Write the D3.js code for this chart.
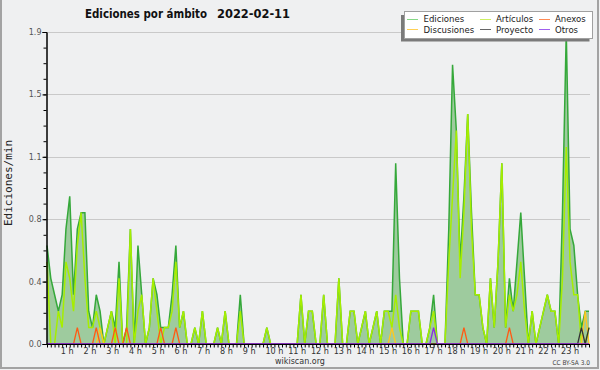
<!DOCTYPE html>
<html><head><meta charset="utf-8">
<script src="https://cdn.jsdelivr.net/npm/d3@7"></script>
<style>body{margin:0;background:#eff0f1}svg{display:block}</style>
</head><body>
<svg id="c" width="600" height="370"></svg>
<script>
// ---- data (edits per minute, 10-minute bins, 144 bins) ----
const hourLabels = d3.range(1, 24).map(h => h + " h");
const yTickValues = [0, 0.38, 0.76, 1.14, 1.52, 1.9];
const legendNames = ["Ediciones", "Artículos", "Anexos", "Discusiones", "Proyecto", "Otros"];

const ediciones = [
 0.6,0.4,0.3,0.2,0.3,0.7, 0.9,0.3,0.7,0.8,0.8,0.2, 0.1,0.3,0.2,0,0.1,0.2, 0.1,0.5,0,0.1,0.7,0,
 0.6,0.3,0,0.1,0.4,0.3, 0.1,0.1,0.1,0.3,0.6,0.1, 0.2,0,0,0.1,0,0.2, 0,0,0,0.1,0,0.2,
 0,0,0,0.3,0,0, 0,0,0,0,0.1,0, 0,0,0,0,0,0, 0,0.3,0,0.2,0.2,0,
 0,0.3,0,0,0,0.4, 0,0,0.2,0.2,0,0.1, 0.2,0,0.1,0.2,0,0.2, 0.2,0.2,1.1,0.4,0,0,
 0.2,0.2,0.2,0,0,0.1, 0.3,0,0,0,0.7,1.7, 1.3,0.5,0.9,1.4,0.8,0.3, 0.3,0.1,0,0.4,0.1,0.5,
 1.1,0.1,0.4,0.2,0.5,0.8, 0.4,0,0.2,0,0.1,0.2, 0.3,0.2,0.2,0,0.8,1.9, 0.7,0.6,0.3,0.1,0.2,0.2
];
const articulos = [
 0.5,0,0,0.2,0.1,0.5, 0.4,0.2,0.6,0.8,0.4,0.1, 0.1,0.2,0.1,0,0.1,0.2, 0,0.4,0,0,0.7,0,
 0.2,0.3,0,0.1,0.4,0.2, 0,0.1,0.1,0.2,0.5,0.1, 0.2,0,0,0.1,0,0.2, 0,0,0,0.1,0,0.2,
 0,0,0,0.2,0,0, 0,0,0,0,0.1,0, 0,0,0,0,0,0, 0,0.3,0,0.2,0.2,0,
 0,0.3,0,0,0,0.4, 0,0,0.2,0.2,0,0.1, 0.2,0,0.1,0.2,0,0.2, 0.2,0.1,0.3,0.1,0,0,
 0.2,0.2,0.2,0,0,0.1, 0.2,0,0,0,0.5,0.9, 1.3,0.4,0.8,1.4,0.7,0.3, 0.3,0.1,0,0.4,0.1,0.5,
 1.1,0.1,0.3,0.2,0.3,0.5, 0.2,0,0.2,0,0.1,0.2, 0.3,0.2,0.2,0,0.4,1.2, 0.5,0.3,0.3,0,0,0.1
];
// sparse series: [bin, value]
const anexosPts = [[8,0.1],[13,0.1],[18,0.1],[21,0.1],[30,0.1],[34,0.1],[110,0.1],[122,0.1]];
const discusionesPts = [[14,0.1],[91,0.1],[142,0.2]];
const proyectoPts = [[141,0.1],[143,0.1]];
const otrosPts = [[102,0.1]];

function dense(pts){ const a = new Array(144).fill(0); pts.forEach(([i,v]) => a[i] = v); return a; }
const anexos = dense(anexosPts), discusiones = dense(discusionesPts),
      proyecto = dense(proyectoPts), otros = dense(otrosPts);

// ---- layout ----
const svg = d3.select("#c");
const W = 600, H = 370;
const x = d3.scaleLinear().domain([0, 143]).range([47, 589]);
const y = d3.scaleLinear().domain([0, 1.9]).range([344, 32]);
const FONT = "DejaVu Sans Condensed, DejaVu Sans, sans-serif";

svg.append("rect").attr("width", W).attr("height", H).attr("fill", "#eff0f1");
// frame
svg.append("path").attr("d", "M1,0V368H598V0").attr("fill", "none").attr("stroke", "#a3a3a3").attr("stroke-width", 2);

// gridlines
svg.append("g").selectAll("line").data(yTickValues.slice(1)).join("line")
  .attr("x1", 47).attr("x2", 590).attr("y1", d => Math.round(y(d)) + 0.5).attr("y2", d => Math.round(y(d)) + 0.5)
  .attr("stroke", "#c9c9c9").attr("stroke-width", 1);

// area + lines
const area = d3.area().x((d, i) => x(i)).y0(y(0)).y1(d => y(d));
const line = d3.line().x((d, i) => x(i)).y(d => y(d));
svg.append("path").datum(ediciones).attr("d", area).attr("fill", "#9ecb9e");
svg.append("path").datum(ediciones).attr("d", line).attr("fill", "none").attr("stroke", "#35a83a").attr("stroke-width", 1.5);
svg.append("path").datum(articulos).attr("d", line).attr("fill", "none").attr("stroke", "#a6ee00").attr("stroke-width", 1.5);
const small = [[discusiones, "#ffc81e"], [anexos, "#ff5a14"], [proyecto, "#333333"], [otros, "#8a2be2"]];
small.forEach(([data, col]) => {
  svg.append("path").datum(data).attr("d", line).attr("fill", "none").attr("stroke", col).attr("stroke-width", 1.3);
});

// y axis
const gy = svg.append("g").attr("transform", "translate(46.5,0)");
gy.call(d3.axisLeft(y).tickValues(yTickValues).tickSize(4).tickPadding(1).tickFormat(d3.format(".1f")));
gy.append("g").call(d3.axisLeft(y).tickValues(d3.range(0, 20).map(i => i * 0.095)).tickSize(3).tickFormat(""));
gy.selectAll(".domain").attr("stroke", "#000");
gy.selectAll("line").attr("stroke", "#000");
gy.selectAll("text").attr("font-family", "DejaVu Sans, sans-serif").attr("font-size", 8).attr("fill", "#555");

// x axis
const gx = svg.append("g").attr("transform", "translate(0,344.5)");
gx.call(d3.axisBottom(x).tickValues(d3.range(0, 144)).tickSize(3).tickSizeOuter(0).tickFormat(""));
gx.select(".domain").attr("d", "M46,0H590").attr("stroke", "#000");
gx.selectAll("line").attr("stroke", "#000");
svg.append("g").selectAll("text").data(hourLabels).join("text")
  .attr("x", (d, i) => x((i + 1) * 6) - 9).attr("y", 354)
  .attr("font-family", FONT).attr("font-size", 9).attr("fill", "#333")
  .text(d => d);

// y label
svg.append("text").attr("transform", "translate(12,183) rotate(-90)").attr("text-anchor", "middle")
  .attr("font-family", "DejaVu Sans Mono, monospace").attr("font-size", 11).attr("fill", "#222")
  .text("Ediciones/min");

// title
svg.append("text").attr("x", 85).attr("y", 18).attr("font-family", FONT).attr("font-weight", "bold")
  .attr("font-size", 12).attr("fill", "#111").attr("textLength", 122).attr("lengthAdjust", "spacingAndGlyphs")
  .text("Ediciones por ámbito");
svg.append("text").attr("x", 217).attr("y", 18).attr("font-family", FONT).attr("font-weight", "bold")
  .attr("font-size", 12).attr("fill", "#111").attr("textLength", 73).attr("lengthAdjust", "spacingAndGlyphs")
  .text("2022-02-11");

// footer
svg.append("text").attr("x", 300).attr("y", 363.5).attr("text-anchor", "middle")
  .attr("font-family", "DejaVu Sans, sans-serif").attr("font-size", 8).attr("fill", "#333").text("wikiscan.org");
svg.append("text").attr("x", 590).attr("y", 365).attr("text-anchor", "end")
  .attr("font-family", FONT).attr("font-size", 6.5).attr("fill", "#444").text("CC BY-SA 3.0");

// legend
const lg = svg.append("g");
lg.append("rect").attr("x", 401).attr("y", 15).attr("width", 188.5).attr("height", 26.5).attr("fill", "#7a7a7a");
lg.append("rect").attr("x", 404.5).attr("y", 11.5).attr("width", 188).attr("height", 27).attr("fill", "#fff").attr("stroke", "#a0a0a0");
const legendColors = ["#86d886", "#cdef62", "#ff8a55", "#ffd055", "#666666", "#a060ee"];
const legendPos = [
  {lx: 407, tx: 423.5, ly: 19, ty: 22},
  {lx: 480, tx: 496, ly: 19, ty: 22},
  {lx: 539, tx: 555, ly: 19, ty: 22},
  {lx: 407, tx: 423.5, ly: 29, ty: 33.2},
  {lx: 480, tx: 496, ly: 29, ty: 33.2},
  {lx: 539, tx: 555, ly: 29, ty: 33.2}
];
legendNames.forEach((n, i) => {
  const p = legendPos[i];
  lg.append("line").attr("x1", p.lx).attr("x2", p.lx + 11).attr("y1", p.ly + 0.5).attr("y2", p.ly + 0.5)
    .attr("stroke", legendColors[i]).attr("stroke-width", 1);
  lg.append("text").attr("x", p.tx).attr("y", p.ty).attr("font-family", FONT).attr("font-size", 9.5)
    .attr("fill", "#222").text(n);
});
</script>
</body></html>
